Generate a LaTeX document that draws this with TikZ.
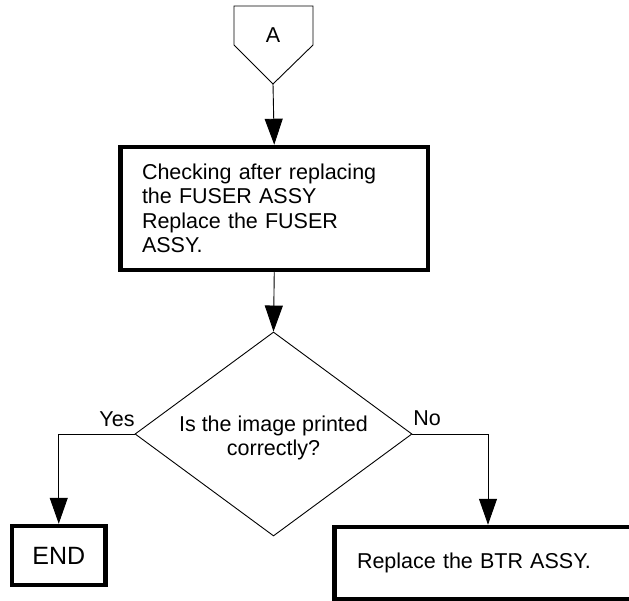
\documentclass[tikz,border=0pt]{standalone}
\usepackage{fontspec}
\setmainfont{Liberation Sans}
\usetikzlibrary{shapes.geometric,arrows.meta}
\begin{document}
\begin{tikzpicture}[x=1pt,y=-1pt,
  every node/.style={font=\fontsize{21.5}{24.5}\selectfont},
  thickbox/.style={draw,line width=4.5pt,inner sep=0pt},
  conn/.style={line width=0.9pt,-{Triangle[length=26pt,width=18pt]}},
  thin/.style={line width=0.9pt}]
\useasboundingbox (0,0) rectangle (629,601);
\clip (0,0) rectangle (629,601);
\fill[white] (0,0) rectangle (629,601);
% off-page connector A
\draw[thin] (234,6) -- (313,6) -- (313,45) -- (273,84) -- (234,45) -- cycle;
\coordinate (Aapex) at (273,84);
\node (A) at (273,35) {A};
% FUSER box
\node[thickbox,minimum width=307.5pt,minimum height=123pt,inner xsep=21.5pt,
  text width=264.5pt,align=left] (fuser) at (274.25,208.5)
  {Checking after replacing\\the FUSER ASSY\\Replace the FUSER\\ASSY.};
% decision
\node[draw,thin,diamond,minimum width=277pt,minimum height=204pt,inner sep=0pt,
  aspect=1.36] (dec) at (273.5,434) {};
\node[align=center,inner sep=0pt] (dectext) at (273.5,438) {Is the image printed\\correctly?};
% END
\node[thickbox,minimum width=93.5pt,minimum height=59pt,font=\fontsize{25}{28}\selectfont] (endb) at (58.75,555.5) {END};
% BTR box
\node[thickbox,minimum width=307pt,minimum height=72pt,inner xsep=22.5pt,
  text width=262pt,align=left] (btr) at (488,563) {Replace the BTR ASSY.};
% labels
\node (yes) at (117,419) {Yes};
\node (no) at (427,418) {No};
% connectors
\draw[conn] (Aapex) -- (fuser.north);
\draw[conn] (fuser.south) -- (dec.north);
\draw[conn] (dec.west) -| (endb.north);
\draw[conn] (dec.east) -| (btr.north);
\end{tikzpicture}
\end{document}
